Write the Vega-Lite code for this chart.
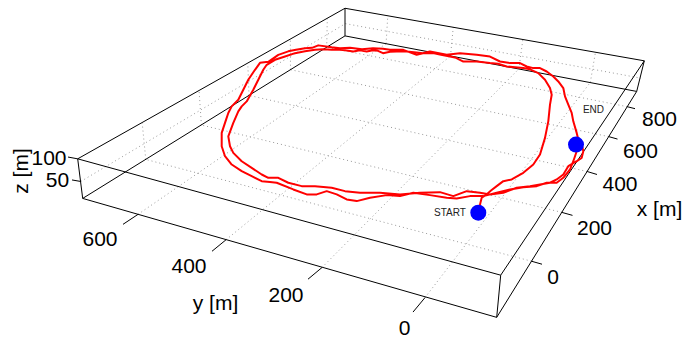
{
  "$schema": "https://vega.github.io/schema/vega-lite/v6.json",
  "width": 685,
  "height": 339,
  "autosize": {"type": "fit", "contains": "padding"},
  "padding": 0,
  "background": "white",
  "config": {"view": {"stroke": null}},
  "datasets": {
    "grid": [
      {"px": 531.5, "py": 262, "px2": 145.8, "py2": 159.9},
      {"px": 561.8, "py": 213, "px2": 201.4, "py2": 125.4},
      {"px": 587.1, "py": 172, "px2": 249, "py2": 95.7},
      {"px": 608.7, "py": 137, "px2": 290.5, "py2": 69.9},
      {"px": 627.2, "py": 107, "px2": 326.7, "py2": 47.4},
      {"px": 145.8, "py": 159.9, "px2": 142.2, "py2": 123.5},
      {"px": 201.4, "py": 125.4, "px2": 199.1, "py2": 91.4},
      {"px": 249, "py": 95.7, "px2": 247.8, "py2": 63.7},
      {"px": 290.5, "py": 69.9, "px2": 290.3, "py2": 39.6},
      {"px": 326.7, "py": 47.4, "px2": 327.3, "py2": 18.6},
      {"px": 138, "py": 215, "px2": 386.1, "py2": 43.8},
      {"px": 226, "py": 240.5, "px2": 450.5, "py2": 56.1},
      {"px": 322, "py": 268.3, "px2": 518.9, "py2": 69.1},
      {"px": 425, "py": 298.5, "px2": 590.3, "py2": 82.7},
      {"px": 386.1, "py": 43.8, "px2": 387.8, "py2": 15.4},
      {"px": 450.5, "py": 56.1, "px2": 453.3, "py2": 27},
      {"px": 518.9, "py": 69.1, "px2": 522.9, "py2": 39.3},
      {"px": 590.3, "py": 82.7, "px2": 595.5, "py2": 52.2},
      {"px": 80.8, "py": 182, "px2": 345.4, "py2": 23.7},
      {"px": 345.4, "py": 23.7, "px2": 641, "py2": 78.4}
    ],
    "box": [
      {"px": 77.7, "py": 159.3, "px2": 345, "py2": 8.3},
      {"px": 345, "py": 8.3, "px2": 644.3, "py2": 61},
      {"px": 644.3, "py": 61, "px2": 500.7, "py2": 276},
      {"px": 500.7, "py": 276, "px2": 77.7, "py2": 159.3},
      {"px": 82.7, "py": 199, "px2": 345, "py2": 36},
      {"px": 345, "py": 36, "px2": 636.7, "py2": 91.7},
      {"px": 636.7, "py": 91.7, "px2": 496.7, "py2": 318.3},
      {"px": 496.7, "py": 318.3, "px2": 82.7, "py2": 199},
      {"px": 77.7, "py": 159.3, "px2": 82.7, "py2": 199},
      {"px": 345, "py": 8.3, "px2": 345, "py2": 36},
      {"px": 644.3, "py": 61, "px2": 636.7, "py2": 91.7},
      {"px": 500.7, "py": 276, "px2": 496.7, "py2": 318.3},
      {"px": 531.5, "py": 262, "px2": 542, "py2": 265},
      {"px": 561.8, "py": 213, "px2": 572.5, "py2": 216},
      {"px": 587.1, "py": 172, "px2": 597, "py2": 175},
      {"px": 608.7, "py": 137, "px2": 617.5, "py2": 139.5},
      {"px": 627.2, "py": 107, "px2": 635, "py2": 109},
      {"px": 138, "py": 215, "px2": 123, "py2": 225},
      {"px": 226, "py": 240.5, "px2": 212, "py2": 252},
      {"px": 322, "py": 268.3, "px2": 308, "py2": 280},
      {"px": 425, "py": 298.5, "px2": 413, "py2": 313},
      {"px": 77.7, "py": 159.3, "px2": 68, "py2": 157.5},
      {"px": 80.8, "py": 182, "px2": 72, "py2": 180.5}
    ],
    "traj": [
      {"i": 1, "px": 478.3, "py": 213.3}, {"i": 2, "px": 480.5, "py": 203}, {"i": 3, "px": 481.7, "py": 198.3},
      {"i": 4, "px": 486, "py": 195.5}, {"i": 5, "px": 491, "py": 191}, {"i": 6, "px": 496.7, "py": 186.7},
      {"i": 7, "px": 503.3, "py": 181.7}, {"i": 8, "px": 511.7, "py": 180}, {"i": 9, "px": 517, "py": 177},
      {"i": 10, "px": 523.3, "py": 173.3}, {"i": 11, "px": 533.3, "py": 165}, {"i": 12, "px": 540, "py": 155},
      {"i": 13, "px": 545, "py": 138.3}, {"i": 14, "px": 548.3, "py": 121.7}, {"i": 15, "px": 550, "py": 105},
      {"i": 16, "px": 551.7, "py": 95}, {"i": 17, "px": 550, "py": 88.3}, {"i": 18, "px": 545, "py": 80},
      {"i": 19, "px": 538.3, "py": 73.3}, {"i": 20, "px": 530, "py": 69.5}, {"i": 21, "px": 523.3, "py": 68.3},
      {"i": 22, "px": 515, "py": 67.5}, {"i": 23, "px": 506.7, "py": 66.7}, {"i": 24, "px": 498, "py": 64},
      {"i": 25, "px": 490, "py": 63.3}, {"i": 26, "px": 476.7, "py": 61.7}, {"i": 27, "px": 463.3, "py": 61.7},
      {"i": 28, "px": 456, "py": 58}, {"i": 29, "px": 450, "py": 56.7}, {"i": 30, "px": 441, "py": 55},
      {"i": 31, "px": 433, "py": 53.3}, {"i": 32, "px": 423, "py": 53.3}, {"i": 33, "px": 414, "py": 52.5},
      {"i": 34, "px": 406.7, "py": 51.7}, {"i": 35, "px": 396.7, "py": 51.7}, {"i": 36, "px": 390, "py": 52},
      {"i": 37, "px": 383, "py": 53.3}, {"i": 38, "px": 378, "py": 51}, {"i": 39, "px": 373, "py": 50.5},
      {"i": 40, "px": 366.7, "py": 51.7}, {"i": 41, "px": 360, "py": 50.5}, {"i": 42, "px": 353.3, "py": 51.7},
      {"i": 43, "px": 345, "py": 50.5}, {"i": 44, "px": 340, "py": 50}, {"i": 45, "px": 331.7, "py": 50},
      {"i": 46, "px": 323, "py": 49.5}, {"i": 47, "px": 315, "py": 50}, {"i": 48, "px": 305, "py": 51.5},
      {"i": 49, "px": 295, "py": 53.3}, {"i": 50, "px": 285, "py": 56.7}, {"i": 51, "px": 275, "py": 60},
      {"i": 52, "px": 266.7, "py": 65}, {"i": 53, "px": 263.3, "py": 70}, {"i": 54, "px": 258.3, "py": 80},
      {"i": 55, "px": 253.3, "py": 90}, {"i": 56, "px": 246.7, "py": 101.7}, {"i": 57, "px": 241.7, "py": 106.7},
      {"i": 58, "px": 238.3, "py": 111.7}, {"i": 59, "px": 233.3, "py": 123.3}, {"i": 60, "px": 228.3, "py": 136.7},
      {"i": 61, "px": 230, "py": 146.7}, {"i": 62, "px": 233.3, "py": 153.3}, {"i": 63, "px": 241.7, "py": 161.7},
      {"i": 64, "px": 251.7, "py": 168.3}, {"i": 65, "px": 261.7, "py": 175}, {"i": 66, "px": 268.3, "py": 178.3},
      {"i": 67, "px": 278.3, "py": 178.3}, {"i": 68, "px": 288.3, "py": 183.3}, {"i": 69, "px": 301.7, "py": 186.7},
      {"i": 70, "px": 315, "py": 186.7}, {"i": 71, "px": 331.7, "py": 188.3}, {"i": 72, "px": 345, "py": 191.7},
      {"i": 73, "px": 360, "py": 193.3}, {"i": 74, "px": 380, "py": 193.3}, {"i": 75, "px": 400, "py": 195},
      {"i": 76, "px": 420, "py": 193.3}, {"i": 77, "px": 440, "py": 192.7}, {"i": 78, "px": 453.3, "py": 196.7},
      {"i": 79, "px": 466.7, "py": 191.7}, {"i": 80, "px": 480, "py": 193.3}, {"i": 81, "px": 490, "py": 195},
      {"i": 82, "px": 503.3, "py": 193.3}, {"i": 83, "px": 516.7, "py": 188.3}, {"i": 84, "px": 530, "py": 186.7},
      {"i": 85, "px": 540, "py": 185}, {"i": 86, "px": 550, "py": 183.3}, {"i": 87, "px": 556.7, "py": 180},
      {"i": 88, "px": 563.3, "py": 175}, {"i": 89, "px": 568.3, "py": 166.7}, {"i": 90, "px": 576.7, "py": 161.7},
      {"i": 91, "px": 581.7, "py": 158.3}, {"i": 92, "px": 583.3, "py": 151.7}, {"i": 93, "px": 581.7, "py": 145},
      {"i": 94, "px": 578.3, "py": 140}, {"i": 95, "px": 576.7, "py": 133.3}, {"i": 96, "px": 573.3, "py": 121.7},
      {"i": 97, "px": 571.7, "py": 113.3}, {"i": 98, "px": 568.3, "py": 105}, {"i": 99, "px": 565, "py": 96.7},
      {"i": 100, "px": 563.3, "py": 88.3}, {"i": 101, "px": 558.3, "py": 81.7}, {"i": 102, "px": 553.3, "py": 76.7},
      {"i": 103, "px": 546.7, "py": 71.7}, {"i": 104, "px": 540, "py": 68.3}, {"i": 105, "px": 533.3, "py": 68.3},
      {"i": 106, "px": 526.7, "py": 66.7}, {"i": 107, "px": 520, "py": 63.3}, {"i": 108, "px": 510, "py": 63.3},
      {"i": 109, "px": 500, "py": 61.7}, {"i": 110, "px": 490, "py": 56.7}, {"i": 111, "px": 476.7, "py": 55},
      {"i": 112, "px": 460, "py": 53.3}, {"i": 113, "px": 446.7, "py": 55}, {"i": 114, "px": 430, "py": 51.7},
      {"i": 115, "px": 416.7, "py": 55}, {"i": 116, "px": 403.3, "py": 50}, {"i": 117, "px": 390, "py": 50},
      {"i": 118, "px": 383, "py": 49}, {"i": 119, "px": 373, "py": 48.5}, {"i": 120, "px": 362, "py": 49.5},
      {"i": 121, "px": 350, "py": 48}, {"i": 122, "px": 340, "py": 48.5}, {"i": 123, "px": 331.7, "py": 47.5},
      {"i": 124, "px": 318.3, "py": 45.5}, {"i": 125, "px": 312, "py": 48}, {"i": 126, "px": 305, "py": 48.5},
      {"i": 127, "px": 296, "py": 50}, {"i": 128, "px": 288.3, "py": 51.5}, {"i": 129, "px": 278.3, "py": 55},
      {"i": 130, "px": 268.3, "py": 62}, {"i": 131, "px": 260, "py": 63}, {"i": 132, "px": 255, "py": 70},
      {"i": 133, "px": 248.3, "py": 80}, {"i": 134, "px": 243.3, "py": 90}, {"i": 135, "px": 238.3, "py": 100},
      {"i": 136, "px": 231.7, "py": 106.7}, {"i": 137, "px": 228.3, "py": 113.3}, {"i": 138, "px": 225, "py": 123.3},
      {"i": 139, "px": 221.7, "py": 133.3}, {"i": 140, "px": 221.7, "py": 146.7}, {"i": 141, "px": 225, "py": 156.7},
      {"i": 142, "px": 231.7, "py": 165}, {"i": 143, "px": 241.7, "py": 171.7}, {"i": 144, "px": 251.7, "py": 176.7},
      {"i": 145, "px": 261.7, "py": 181.7}, {"i": 146, "px": 270, "py": 182.5}, {"i": 147, "px": 276.7, "py": 183.3},
      {"i": 148, "px": 293.3, "py": 190}, {"i": 149, "px": 306.7, "py": 195}, {"i": 150, "px": 316.7, "py": 195},
      {"i": 151, "px": 326.7, "py": 191.7}, {"i": 152, "px": 336.7, "py": 195}, {"i": 153, "px": 346.7, "py": 200},
      {"i": 154, "px": 356.7, "py": 201.7}, {"i": 155, "px": 370, "py": 198.3}, {"i": 156, "px": 386.7, "py": 195.7},
      {"i": 157, "px": 400, "py": 196.7}, {"i": 158, "px": 413.3, "py": 193.3}, {"i": 159, "px": 430, "py": 195.7},
      {"i": 160, "px": 446.7, "py": 198.3}, {"i": 161, "px": 456.7, "py": 199}, {"i": 162, "px": 470, "py": 196.7},
      {"i": 163, "px": 483.3, "py": 196.7}, {"i": 164, "px": 496.7, "py": 193.3}, {"i": 165, "px": 510, "py": 190},
      {"i": 166, "px": 523.3, "py": 187.7}, {"i": 167, "px": 536.7, "py": 186.7}, {"i": 168, "px": 546.7, "py": 183.3},
      {"i": 169, "px": 556.7, "py": 183.3}, {"i": 170, "px": 563.3, "py": 178.3}, {"i": 171, "px": 570, "py": 170},
      {"i": 172, "px": 573.3, "py": 161.7}, {"i": 173, "px": 576.7, "py": 151.7}, {"i": 174, "px": 576, "py": 145}
    ],
    "markers": [
      {"name": "START", "px": 478.3, "py": 213.3, "lx": 450, "ly": 213.3},
      {"name": "END", "px": 576, "py": 145, "lx": 593.5, "ly": 110.5}
    ],
    "labels": [
      {"px": 553, "py": 279, "label": "0"},
      {"px": 594.5, "py": 229.7, "label": "200"},
      {"px": 620, "py": 186, "label": "400"},
      {"px": 640.5, "py": 152, "label": "600"},
      {"px": 659.5, "py": 120.7, "label": "800"},
      {"px": 659.5, "py": 211, "label": "x [m]"},
      {"px": 100, "py": 240.5, "label": "600"},
      {"px": 189, "py": 268, "label": "400"},
      {"px": 286, "py": 297, "label": "200"},
      {"px": 404.5, "py": 330, "label": "0"},
      {"px": 215.5, "py": 305, "label": "y [m]"},
      {"px": 49, "py": 159, "label": "100"},
      {"px": 57.5, "py": 181.5, "label": "50"}
    ],
    "ztitle": [
      {"px": 22, "py": 171.5, "label": "z [m]"}
    ]
  },
  "encoding": {
    "x": {"field": "px", "type": "quantitative", "scale": {"domain": [0, 685], "nice": false, "zero": false}, "axis": null},
    "y": {"field": "py", "type": "quantitative", "scale": {"domain": [0, 339], "nice": false, "zero": false, "reverse": true}, "axis": null}
  },
  "layer": [
    {
      "data": {"name": "grid"},
      "mark": {"type": "rule", "color": "#9a9a9a", "strokeWidth": 1, "strokeDash": [1, 3]},
      "encoding": {"x2": {"field": "px2"}, "y2": {"field": "py2"}}
    },
    {
      "data": {"name": "box"},
      "mark": {"type": "rule", "color": "#000000", "strokeWidth": 1},
      "encoding": {"x2": {"field": "px2"}, "y2": {"field": "py2"}}
    },
    {
      "data": {"name": "traj"},
      "mark": {"type": "line", "color": "#ff0000", "strokeWidth": 2, "strokeJoin": "round"},
      "encoding": {"order": {"field": "i", "type": "quantitative"}}
    },
    {
      "data": {"name": "markers"},
      "mark": {"type": "circle", "color": "#0000ff", "opacity": 1, "size": 256},
      "encoding": {}
    },
    {
      "data": {"name": "markers"},
      "mark": {"type": "text", "font": "Liberation Sans", "fontSize": 10, "color": "#222222", "align": "center", "baseline": "middle"},
      "encoding": {"x": {"field": "lx", "type": "quantitative"}, "y": {"field": "ly", "type": "quantitative"}, "text": {"field": "name"}}
    },
    {
      "data": {"name": "labels"},
      "mark": {"type": "text", "font": "Liberation Sans", "fontSize": 21, "color": "#000000", "align": "center", "baseline": "middle"},
      "encoding": {"text": {"field": "label"}}
    },
    {
      "data": {"name": "ztitle"},
      "mark": {"type": "text", "font": "Liberation Sans", "fontSize": 21, "color": "#000000", "align": "center", "baseline": "middle", "angle": 270},
      "encoding": {"text": {"field": "label"}}
    }
  ]
}
